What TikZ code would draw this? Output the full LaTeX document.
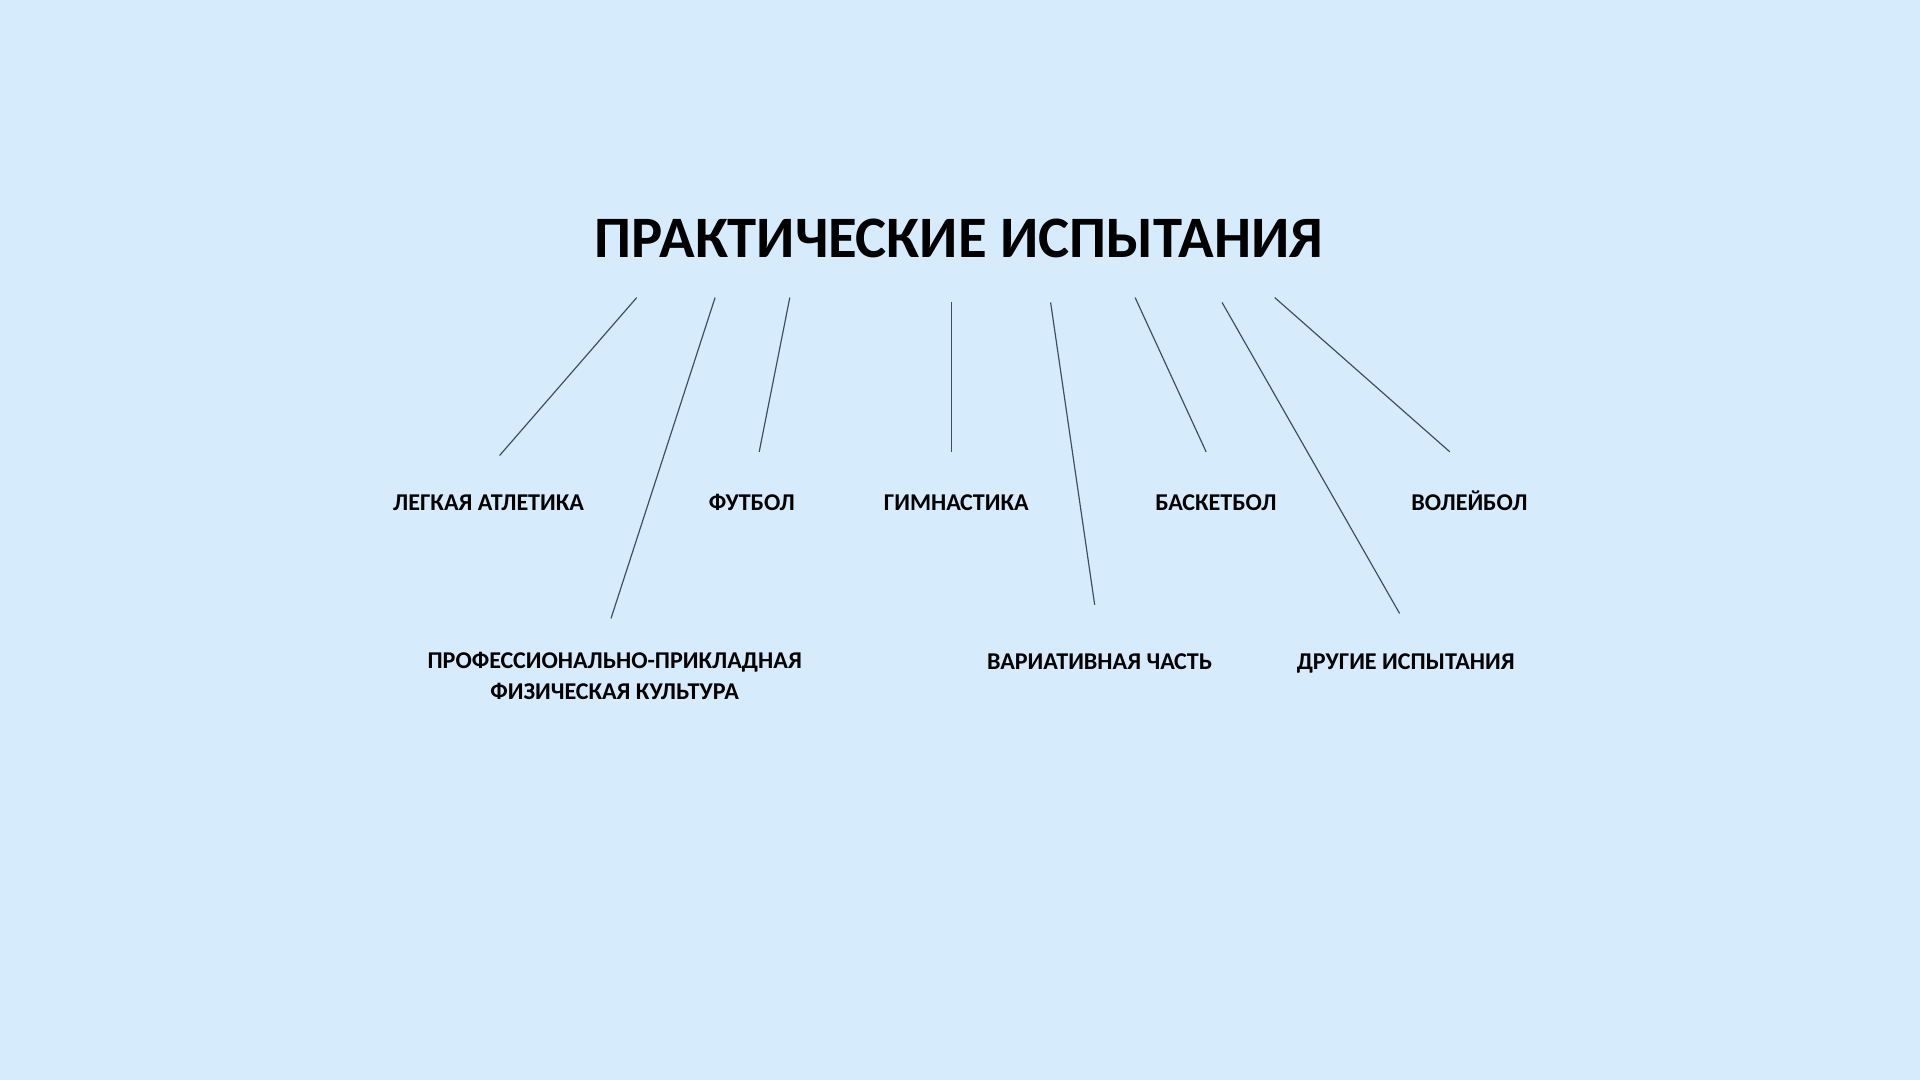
\documentclass[tikz,border=0pt]{standalone}
\usepackage{fontspec}
\setmainfont{Carlito}
\definecolor{slideblue}{HTML}{D6ECFD}
\definecolor{linkgray}{HTML}{3F4E5C}

\begin{document}
\begin{tikzpicture}[
    x=0.02cm, y=-0.02cm, % one unit = one pixel of the slide
    heading/.style={font=\bfseries\fontsize{27.3}{33}\selectfont, inner sep=0pt, anchor=base},
    sport/.style={font=\bfseries\fontsize{11.2}{14}\selectfont, align=center, inner sep=0pt, anchor=base},
    link/.style={draw=linkgray, line width=0.55pt}
]

% slide background
\fill[slideblue] (0,0) rectangle (1568,882);
\useasboundingbox (0,0) rectangle (1568,882);

% title
\node[heading] (tests) at (783,210) {ПРАКТИЧЕСКИЕ ИСПЫТАНИЯ};

% first row
\node[sport] (athletics) at (399,417) {ЛЕГКАЯ АТЛЕТИКА};
\node[sport] (football) at (614,417) {ФУТБОЛ};
\node[sport] (gymnastics) at (781,417) {ГИМНАСТИКА};
\node[sport] (basketball) at (993,417) {БАСКЕТБОЛ};
\node[sport] (volleyball) at (1200,417) {ВОЛЕЙБОЛ};

% second row
\node[sport, anchor=center] (applied) at (502,552) {ПРОФЕССИОНАЛЬНО-ПРИКЛАДНАЯ\\ФИЗИЧЕСКАЯ КУЛЬТУРА};
\node[sport] (variative) at (898,547) {ВАРИАТИВНАЯ ЧАСТЬ};
\node[sport] (other) at (1148,547) {ДРУГИЕ ИСПЫТАНИЯ};

% line ends
\coordinate (athletics-top) at (520,243);  \coordinate (athletics-end) at (408,372);
\coordinate (applied-top) at (584,243);    \coordinate (applied-end) at (499,505);
\coordinate (football-top) at (645,243);   \coordinate (football-end) at (620,369);
\coordinate (gymnastics-top) at (777,247); \coordinate (gymnastics-end) at (777,369);
\coordinate (variative-top) at (858,247);  \coordinate (variative-end) at (894,494);
\coordinate (basketball-top) at (927,243); \coordinate (basketball-end) at (985,369);
\coordinate (other-top) at (998,247);      \coordinate (other-end) at (1143,501);
\coordinate (volleyball-top) at (1041,243); \coordinate (volleyball-end) at (1184,369);

% connectors
\foreach \n in {athletics,applied,football,gymnastics,variative,basketball,other,volleyball}
    \draw[link] (\n-top) -- (\n-end);

\end{tikzpicture}
\end{document}
